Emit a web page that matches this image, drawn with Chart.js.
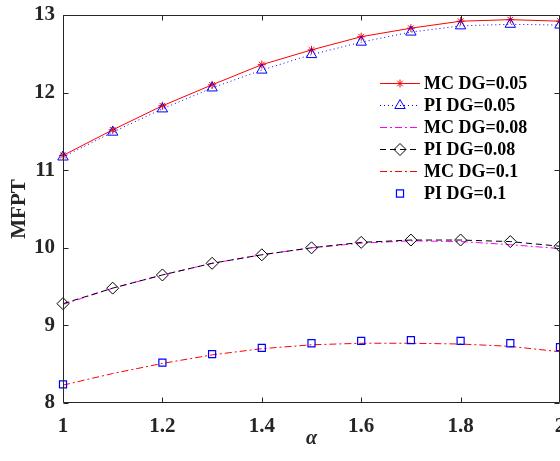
<!DOCTYPE html>
<html>
<head>
<meta charset="utf-8">
<script src="https://cdn.jsdelivr.net/npm/chart.js@4/dist/chart.umd.min.js"></script>
<style>
  html, body { margin: 0; padding: 0; background: #fff; }
  #wrap { width: 560px; height: 461px; position: relative; }
</style>
</head>
<body>
<div id="wrap"><canvas id="c" width="560" height="461"></canvas></div>
<script>
// ---- data ----
const alphaValues = [1, 1.1, 1.2, 1.3, 1.4, 1.5, 1.6, 1.7, 1.8, 1.9, 2];
const mcDG005 = [11.19, 11.52, 11.83, 12.10, 12.36, 12.55, 12.72, 12.83, 12.92, 12.94, 12.92];
const piDG005 = [11.17, 11.49, 11.79, 12.06, 12.29, 12.49, 12.65, 12.78, 12.86, 12.88, 12.87];
const mcDG008 = [9.27, 9.48, 9.65, 9.80, 9.91, 10.00, 10.06, 10.09, 10.08, 10.04, 9.99];
const piDG008 = [9.28, 9.48, 9.65, 9.80, 9.91, 10.00, 10.07, 10.10, 10.10, 10.08, 10.02];
const mcDG01 = [8.23, 8.38, 8.51, 8.62, 8.70, 8.75, 8.77, 8.77, 8.76, 8.73, 8.66];
const piDG01Alpha = [1, 1.2, 1.3, 1.4, 1.5, 1.6, 1.7, 1.8, 1.9, 2];
const piDG01 = [8.24, 8.52, 8.63, 8.71, 8.77, 8.80, 8.81, 8.80, 8.77, 8.72];
const seriesLabels = ['MC DG=0.05', 'PI DG=0.05', 'MC DG=0.08', 'PI DG=0.08', 'MC DG=0.1', 'PI DG=0.1'];
const xTickValues = [1, 1.2, 1.4, 1.6, 1.8, 2];
const yTickValues = [8, 9, 10, 11, 12, 13];
const xTitle = 'α';
const yTitle = 'MFPT';

const pts = (xs, ys) => xs.map((x, i) => ({x: x, y: ys[i]}));
const SERIF = '"Liberation Serif", "Times New Roman", serif';
const AXIS_COLOR = '#262626';

const datasets = [
  {label: seriesLabels[0], data: pts(alphaValues, mcDG005), borderColor: '#ff0000', backgroundColor: 'transparent',
   borderWidth: 1, pointStyle: 'star', pointRadius: 4, pointBorderColor: '#ff0000', pointBorderWidth: 1, order: 6},
  {label: seriesLabels[1], data: pts(alphaValues, piDG005), borderColor: '#0000ff', backgroundColor: 'transparent',
   borderWidth: 1, borderDash: [1, 3], pointStyle: 'triangle', pointRadius: 6, pointBorderColor: '#0000ff', pointBorderWidth: 1, order: 5},
  {label: seriesLabels[2], data: pts(alphaValues, mcDG008), borderColor: '#ff00ff', backgroundColor: 'transparent',
   borderWidth: 1, borderDash: [7, 3, 2, 3], pointRadius: 0, order: 4},
  {label: seriesLabels[3], data: pts(alphaValues, piDG008), borderColor: '#000000', backgroundColor: 'transparent',
   borderWidth: 1, borderDash: [6, 4], pointStyle: 'rectRot', pointRadius: 6, pointBorderColor: '#000000', pointBorderWidth: 1, order: 3},
  {label: seriesLabels[4], data: pts(alphaValues, mcDG01), borderColor: '#ff0000', backgroundColor: 'transparent',
   borderWidth: 1, borderDash: [7, 3, 2, 3], pointRadius: 0, order: 2},
  {label: seriesLabels[5], data: pts(piDG01Alpha, piDG01), borderColor: '#0000ff', backgroundColor: 'transparent',
   borderWidth: 1, showLine: false, pointStyle: 'rect', pointRadius: 5, pointBorderColor: '#0000ff', pointBorderWidth: 1.2, order: 1}
];
datasets.forEach(d => { d.clip = false; d.tension = 0; d.pointBackgroundColor = 'transparent'; d.pointHoverRadius = d.pointRadius; });

// box + inward ticks (MATLAB style)
const boxPlugin = {
  id: 'box',
  afterDatasetsDraw(chart) {
    const {ctx, chartArea: a, scales: {x, y}} = chart;
    ctx.save();
    ctx.strokeStyle = AXIS_COLOR;
    ctx.lineWidth = 1;
    ctx.beginPath();
    const L = Math.round(a.left) + 0.5, R = Math.round(a.right) - 0.5;
    const T = Math.round(a.top) + 0.5, B = Math.round(a.bottom) - 0.5;
    ctx.rect(L, T, R - L, B - T);
    const tl = 5;
    x.ticks.forEach(t => {
      const px = Math.round(x.getPixelForValue(t.value)) + 0.5;
      ctx.moveTo(px, B); ctx.lineTo(px, B - tl);
      ctx.moveTo(px, T); ctx.lineTo(px, T + tl);
    });
    y.ticks.forEach(t => {
      const py = Math.round(y.getPixelForValue(t.value)) + 0.5;
      ctx.moveTo(L, py); ctx.lineTo(L + tl, py);
      ctx.moveTo(R, py); ctx.lineTo(R - tl, py);
    });
    ctx.stroke();
    ctx.restore();
  }
};

// MATLAB-like legend (line sample + marker)
const legendPlugin = {
  id: 'mlegend',
  afterDraw(chart) {
    const {ctx} = chart;
    const x0 = 380, x1 = 420, tx = 424, y0 = 83.5, dy = 22;
    ctx.save();
    chart.data.datasets.forEach((d, i) => {
      const yy = y0 + i * dy;
      if (d.showLine !== false) {
        ctx.save();
        ctx.strokeStyle = d.borderColor;
        ctx.lineWidth = d.borderWidth;
        ctx.setLineDash(d.borderDash || []);
        ctx.beginPath();
        ctx.moveTo(x0, yy); ctx.lineTo(x1, yy);
        ctx.stroke();
        ctx.restore();
      }
      if (d.pointRadius > 0) {
        ctx.save();
        ctx.strokeStyle = d.pointBorderColor;
        ctx.fillStyle = 'transparent';
        ctx.lineWidth = d.pointBorderWidth;
        Chart.helpers.drawPoint(ctx, {pointStyle: d.pointStyle, radius: d.pointRadius, borderWidth: d.pointBorderWidth, rotation: 0}, (x0 + x1) / 2, yy);
        ctx.restore();
      }
      ctx.fillStyle = '#000';
      ctx.font = 'bold 18px ' + SERIF;
      ctx.textBaseline = 'middle';
      ctx.textAlign = 'left';
      ctx.fillText(d.label, tx, yy + 1);
    });
    ctx.restore();
  }
};

new Chart(document.getElementById('c'), {
  type: 'line',
  data: {datasets: datasets},
  options: {
    responsive: false,
    animation: false,
    devicePixelRatio: 1,
    layout: {padding: {top: 15, right: 0, left: 0, bottom: 0}, autoPadding: false},
    plugins: {legend: {display: false}, tooltip: {enabled: false}},
    scales: {
      x: {
        type: 'linear', min: 1, max: 2,
        afterBuildTicks: s => { s.ticks = xTickValues.map(v => ({value: v})); },
        afterFit: s => { s.height = 58; s.paddingLeft = 0; s.paddingRight = 0; },
        grid: {display: false, drawTicks: false},
        border: {display: false},
        ticks: {font: {family: SERIF, size: 21, weight: 'bold'}, color: AXIS_COLOR, padding: 11, maxRotation: 0,
                callback: v => String(v)},
        title: {display: true, text: xTitle, font: {family: SERIF, size: 20, style: 'italic', weight: 'bold'}, color: AXIS_COLOR,
                padding: {top: 0, bottom: 10}}
      },
      y: {
        type: 'linear', min: 8, max: 13,
        afterBuildTicks: s => { s.ticks = yTickValues.map(v => ({value: v})); },
        afterFit: s => { s.width = 63; s.paddingTop = 0; s.paddingBottom = 0; },
        grid: {display: false, drawTicks: false},
        border: {display: false},
        ticks: {font: {family: SERIF, size: 21, weight: 'bold'}, color: AXIS_COLOR, padding: 8,
                callback: v => String(v)},
        title: {display: true, text: yTitle, font: {family: SERIF, size: 21, weight: 'bold'}, color: AXIS_COLOR,
                padding: {top: 7, bottom: 0}}
      }
    }
  },
  plugins: [boxPlugin, legendPlugin]
});
</script>
</body>
</html>
